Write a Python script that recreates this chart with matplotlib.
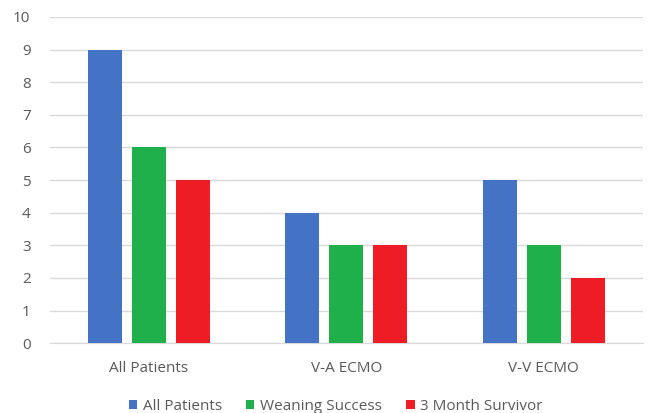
import matplotlib
matplotlib.use("Agg")
import matplotlib.pyplot as plt
import numpy as np

plt.rcParams['font.family'] = ['Open Sans', 'DejaVu Sans']

categories = ["All Patients", "V-A ECMO", "V-V ECMO"]
series_names = ["All Patients", "Weaning Success", "3 Month Survivor"]
all_patients = [9, 4, 5]
weaning_success = [6, 3, 3]
month3_survivor = [5, 3, 2]
colors = ["#4472C4", "#1FB04C", "#EE1D25"]
y_ticks = list(range(0, 11))

fig = plt.figure(figsize=(6.49, 4.13), dpi=100)
ax = fig.add_axes([0.077, 0.169, 0.913, 0.79])

x = np.arange(len(categories))
width = 0.173
step = 0.223
for i, (vals, name, c) in enumerate(zip([all_patients, weaning_success, month3_survivor], series_names, colors)):
    ax.bar(x + (i - 1) * step, vals, width, color=c, label=name, zorder=3)

ax.set_xlim(-0.5, len(categories) - 0.5)
ax.set_ylim(0, 10)
ax.set_yticks(y_ticks)
ax.set_xticks(x)
ax.set_xticklabels(categories)
ax.grid(axis='y', color='#D9D9D9', linewidth=1, zorder=0)
for s in ['top', 'right', 'left']:
    ax.spines[s].set_visible(False)
ax.spines['bottom'].set_color('#D9D9D9')
ax.tick_params(axis='both', length=0, labelsize=11, labelcolor='#595959')
ax.tick_params(axis='x', pad=13)
ax.tick_params(axis='y', pad=14)

ax.legend(loc='lower center', bbox_to_anchor=(0.482, -0.245), ncol=3, frameon=False,
          fontsize=11, handlelength=0.55, handleheight=0.55, handletextpad=0.35,
          columnspacing=1.6, labelcolor='#595959', borderaxespad=0.2)

fig.savefig("out.png", dpi=100)
